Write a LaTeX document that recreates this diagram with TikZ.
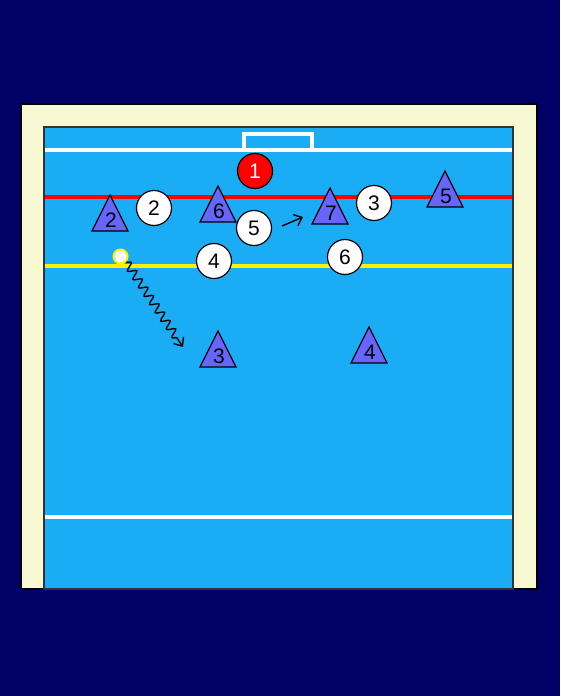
\documentclass[tikz,border=0pt]{standalone}
\usepackage{fontspec}
\setmainfont{Liberation Sans}
\usetikzlibrary{arrows.meta, decorations.pathmorphing}
\definecolor{navy}{RGB}{0,0,102}
\definecolor{deck}{RGB}{248,248,210}
\definecolor{water}{RGB}{26,173,245}
\definecolor{cap}{RGB}{102,102,255}
\tikzset{
    attacker/.style={
        draw,
        circle,
        fill=white,
        line width=1.2pt,
        minimum size=35pt,
        inner sep=0pt,
        font=\fontsize{21}{21}\selectfont
    },
    keeper/.style={attacker, fill=red, text=white},
    defender/.style={draw, fill=cap, line width=1.2pt, line join=miter},
    capnum/.style={inner sep=0pt, font=\fontsize{21}{21}\selectfont},
    ballmark/.style={circle, draw=yellow, fill=white, line width=2pt, minimum size=14pt, inner sep=0pt},
    poolline/.style={line width=3.2pt},
    swim/.style={-{Straight Barb[length=7pt,width=12pt]}, line width=1.4pt},
    dribble/.style={swim, decorate, decoration={snake, amplitude=4pt, segment length=10pt, post length=8pt}},
    every node/.style={font=\fontsize{21}{21}\selectfont}
}

\begin{document}
\begin{tikzpicture}[x=1pt,y=-1pt]
\useasboundingbox (0,0) rectangle (560,696);
% Background, deck and pool
\fill[navy] (0,0) rectangle (560,696);
\draw[fill=deck, line width=1.5pt] (21,104) rectangle (537,589);
\draw[fill=water, draw=black!80, line width=2pt] (44,127) rectangle (513,589);

% Pool lines
\draw[poolline, white] (45,150) -- (512,150);
\draw[poolline, white] (244,150) -- (244,134) -- (312,134) -- (312,150);
\draw[poolline, red] (45,197) -- (512,197);
\draw[poolline, yellow] (45,266) -- (512,266);
\draw[poolline, white] (45,517) -- (512,517);

% Defenders (caps)
\foreach \n/\x/\y in {2/110/231,6/218/222,7/330/224,5/445/207,3/218/367,4/369/363}{
    \draw[defender] (\x-18,\y) -- (\x,\y-36) -- (\x+18,\y) -- cycle;
    \node[capnum] (d\n) at (\x+1,\y-11) {\n};
}

% Attackers
\node[keeper] (a1) at (255,171) {1};
\foreach \n/\x/\y in {2/154/208,5/254/228,4/214/261,3/374/203,6/345/257}{
    \node[attacker] (a\n) at (\x,\y) {\n};
}

% Ball and movements
\node[ballmark] (ball) at (120.5,256.5) {};
\coordinate (shot) at (183,347);
\draw[dribble] (ball.south east) -- (shot);
\coordinate (runA) at (282,226);
\coordinate (runB) at (303,217);
\draw[swim] (runA) -- (runB);
\end{tikzpicture}
\end{document}
